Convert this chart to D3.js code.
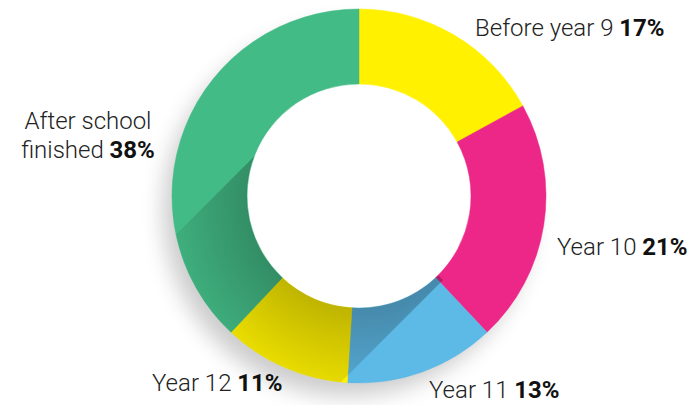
<!DOCTYPE html>
<html>
<head>
<meta charset="utf-8">
<script src="https://cdn.jsdelivr.net/npm/d3@7/dist/d3.min.js"></script>
<style>
  body { margin: 0; background: #fff; }
  text { font-family: Roboto, "Noto Sans", sans-serif; }
</style>
</head>
<body>
<script>
// ---------------- data ----------------
const categories = ["Before year 9", "Year 10", "Year 11", "Year 12", "After school finished"];
const shares = [17, 21, 13, 11, 38];
const colours = ["#fff100", "#ec2787", "#5db9e6", "#fff100", "#43bb86"];
// label text split into lines: [plain, bold]
const labelLines = [
  [["Before year 9 ", "17%"]],
  [["Year 10 ", "21%"]],
  [["Year 11  ", "13%"]],
  [["Year 12 ", "11%"]],
  [["After school", ""], ["finished ", "38%"]]
];

// ---------------- layout ----------------
const width = 693, height = 405;
const cx = 359, cy = 196;
const outerR = 187, innerR = 112;
// where each label sits (x, y of first baseline, anchor)
const labelPos = [
  { x: 475, y: 36, anchor: "start" },
  { x: 557, y: 255, anchor: "start" },
  { x: 429, y: 398, anchor: "start" },
  { x: 152, y: 391, anchor: "start" },
  { x: 88, y: 129, anchor: "middle" }
];
const lineHeight = 29;
const fontSize = 24;

const svg = d3.select("body").append("svg")
  .attr("width", width)
  .attr("height", height);

const defs = svg.append("defs");

// soft drop shadow to the lower left
const blur = defs.append("filter").attr("id", "soft")
  .attr("x", "-30%").attr("y", "-30%").attr("width", "160%").attr("height", "160%");
blur.append("feGaussianBlur").attr("stdDeviation", 11);

const g = svg.append("g").attr("transform", `translate(${cx},${cy})`);

g.append("circle")
  .attr("cx", -11).attr("cy", 15).attr("r", outerR - 2)
  .attr("fill", "#000").attr("opacity", 0.2)
  .attr("filter", "url(#soft)");
g.append("circle").attr("r", innerR + 2).attr("fill", "#fff");

// ---------------- pie ----------------
const pie = d3.pie().sort(null).value(d => d)(shares);
const arc = d3.arc().innerRadius(innerR).outerRadius(outerR);

g.selectAll("path.slice")
  .data(pie)
  .join("path")
  .attr("class", "slice")
  .attr("d", arc)
  .attr("fill", (d, i) => colours[i])
  .attr("stroke", (d, i) => colours[i])
  .attr("stroke-width", 0.5);

// ---------------- fold shading ----------------
// diagonal band (45deg) across the lower-left half of the ring
const u0 = -1.29 * innerR, u1 = 1.5 * innerR, vMax = outerR * 3;
const toXY = (u, v) => [(u - v) / 2, (u + v) / 2];
const band = [toXY(u0, 0), toXY(u1, 0), toXY(u1, vMax), toXY(u0, vMax)];

defs.append("clipPath").attr("id", "band")
  .append("polygon")
  .attr("points", band.map(p => p.join(",")).join(" "));

const lin = defs.append("linearGradient").attr("id", "shadeLin")
  .attr("gradientUnits", "userSpaceOnUse")
  .attr("x1", u0 / 2).attr("y1", u0 / 2)
  .attr("x2", u1 / 2).attr("y2", u1 / 2);
lin.append("stop").attr("offset", 0).attr("stop-color", "#000").attr("stop-opacity", 0.02);
lin.append("stop").attr("offset", 1).attr("stop-color", "#000").attr("stop-opacity", 0.05);

const rad = defs.append("radialGradient").attr("id", "shadeRad")
  .attr("gradientUnits", "userSpaceOnUse")
  .attr("cx", 0).attr("cy", 0).attr("r", outerR);
rad.append("stop").attr("offset", innerR / outerR).attr("stop-color", "#000").attr("stop-opacity", 0.22);
rad.append("stop").attr("offset", 1).attr("stop-color", "#000").attr("stop-opacity", 0.05);

const ring = d3.arc().innerRadius(innerR).outerRadius(outerR)
  .startAngle(0).endAngle(2 * Math.PI)();

const shade = g.append("g").attr("clip-path", "url(#band)");
shade.append("path").attr("d", ring).attr("fill", "url(#shadeLin)");
shade.append("path").attr("d", ring).attr("fill", "url(#shadeRad)");

// ---------------- labels ----------------
const labels = svg.append("g")
  .selectAll("text")
  .data(labelLines)
  .join("text")
  .attr("x", (d, i) => labelPos[i].x)
  .attr("y", (d, i) => labelPos[i].y)
  .attr("text-anchor", (d, i) => labelPos[i].anchor)
  .attr("font-size", fontSize)
  .attr("fill", "#222");

labels.each(function (lines, i) {
  const t = d3.select(this);
  lines.forEach((ln, j) => {
    t.append("tspan")
      .attr("x", labelPos[i].x)
      .attr("dy", j === 0 ? 0 : lineHeight)
      .attr("font-weight", 300)
      .text(ln[0]);
    if (ln[1]) {
      t.append("tspan")
        .attr("font-weight", 700)
        .attr("fill", "#111")
        .text(ln[1]);
    }
  });
});
</script>
</body>
</html>
